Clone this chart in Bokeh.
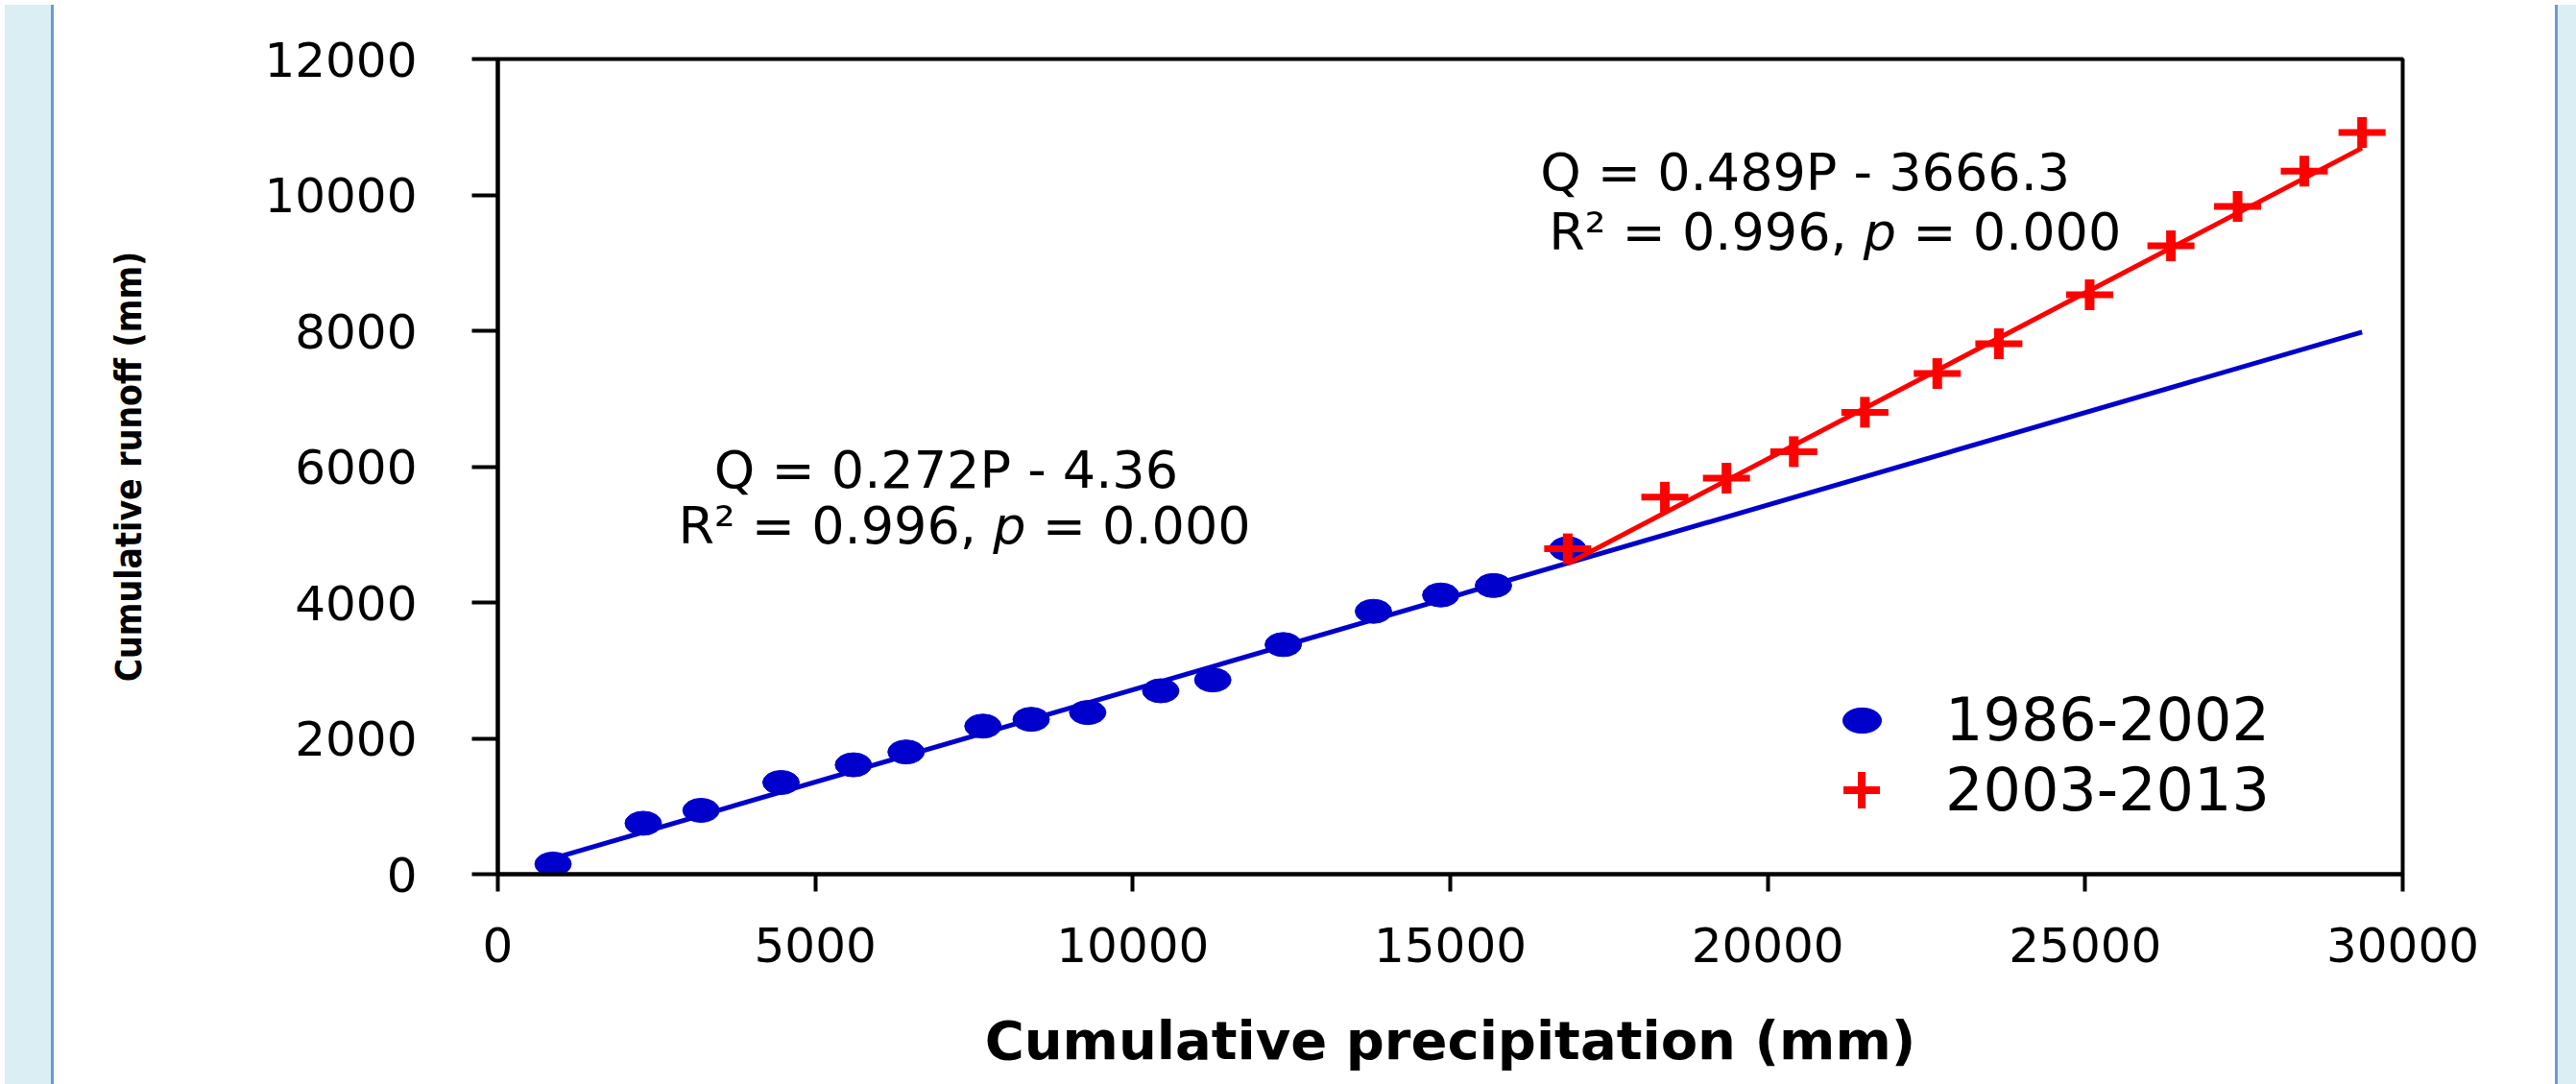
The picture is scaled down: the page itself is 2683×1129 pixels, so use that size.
import numpy as np
from bokeh.plotting import figure
from bokeh.models import Range1d, FixedTicker, Label, Legend, LegendItem, Div
from bokeh.layouts import row
from bokeh.embed import file_html
from bokeh.resources import INLINE

# ---------------- data ----------------
P_1986_2002 = [870, 2290, 3200, 4460, 5600, 6430, 7640, 8400, 9290, 10440,
               11260, 12370, 13790, 14850, 15680, 16850]
Q_1986_2002 = [150, 750, 940, 1350, 1610, 1800, 2180, 2280, 2380, 2700,
               2860, 3380, 3870, 4110, 4250, 4790]

P_2003_2013 = [16850, 18380, 19350, 20410, 21530, 22670, 23640, 25070,
               26350, 27400, 28450, 29360]
Q_2003_2013 = [4790, 5550, 5830, 6220, 6800, 7370, 7810, 8530,
               9250, 9830, 10350, 10920]

SERIES_LABELS = ["1986-2002", "2003-2013"]
FIT_SLOPE = [0.272, 0.489]
FIT_INTERCEPT = [-4.36, -3666.3]
EQ_LINE1 = ["Q = 0.272P - 4.36", "Q = 0.489P - 3666.3"]
EQ_R2 = ["R\u00b2 = 0.996,", "R\u00b2 = 0.996,"]
EQ_P = ["= 0.000", "= 0.000"]

X_TICKS = [0, 5000, 10000, 15000, 20000, 25000, 30000]
Y_TICKS = [0, 2000, 4000, 6000, 8000, 10000, 12000]
X_TITLE = "Cumulative precipitation (mm)"
Y_TITLE = "Cumulative runoff (mm)"

# ---------------- styles ----------------
BLUE = "#0000CC"
RED = "#FF0000"
FONT = "DejaVu Sans"
NARROW = "'Liberation Sans Narrow', 'DejaVu Sans Condensed', 'Liberation Sans', sans-serif"

FIG_W, FIG_H = 2595, 1125

p = figure(width=FIG_W, height=FIG_H,
           x_range=Range1d(0, 30000), y_range=Range1d(0, 12000),
           output_backend="svg", toolbar_location=None,
           min_border_left=457, min_border_right=154,
           min_border_top=61, min_border_bottom=215)
p.xgrid.visible = False
p.ygrid.visible = False
p.outline_line_color = "black"
p.outline_line_width = 4
p.background_fill_color = "white"
p.border_fill_color = "white"

for ax in (p.xaxis[0], p.yaxis[0]):
    ax.axis_line_width = 4
    ax.axis_line_color = "black"
    ax.major_tick_in = 0
    ax.major_tick_line_width = 4
    ax.major_tick_line_color = "black"
    ax.minor_tick_in = 0
    ax.minor_tick_out = 0
    ax.major_label_text_font = FONT
    ax.major_label_text_font_size = "50px"
    ax.major_label_text_color = "black"
    ax.axis_label_text_font_style = "bold"
    ax.axis_label_text_color = "black"

xa = p.xaxis[0]
xa.ticker = FixedTicker(ticks=X_TICKS)
xa.major_tick_out = 18
xa.major_label_standoff = 37
xa.axis_label = X_TITLE
xa.axis_label_text_font = FONT
xa.axis_label_text_font_size = "56px"
xa.axis_label_standoff = 46

ya = p.yaxis[0]
ya.ticker = FixedTicker(ticks=Y_TICKS)
ya.major_tick_out = 27
ya.major_label_standoff = 57
ya.axis_label = Y_TITLE
ya.axis_label_text_font = NARROW
ya.axis_label_text_font_size = "37px"
ya.axis_label_standoff = 116

# ---------------- fitted lines and points ----------------
xb = np.array([min(P_1986_2002), max(P_2003_2013)], dtype=float)
p.line(xb, FIT_SLOPE[0] * xb + FIT_INTERCEPT[0], line_color=BLUE, line_width=5)

blue_r = p.ellipse(P_1986_2002, Q_1986_2002, width=38, height=25,
                   width_units="screen", height_units="screen",
                   fill_color=BLUE, line_color=BLUE)

xr = np.array([min(P_2003_2013), max(P_2003_2013)], dtype=float)
p.line(xr, FIT_SLOPE[1] * xr + FIT_INTERCEPT[1], line_color=RED, line_width=5)

p.scatter(P_2003_2013, Q_2003_2013, marker="dash", size=49,
          line_color=RED, line_width=7)
p.scatter(P_2003_2013, Q_2003_2013, marker="dash", size=32, angle=np.pi / 2,
          line_color=RED, line_width=10)

# hidden cross renderer used only for the legend symbol
red_leg = p.scatter(P_2003_2013, Q_2003_2013, marker="cross", size=38,
                    line_color=RED, line_width=8, visible=False)

leg1 = Legend(items=[LegendItem(label=SERIES_LABELS[0], renderers=[blue_r])],
              location=(1396, 124), glyph_width=50, glyph_height=72,
              label_standoff=62, padding=0, margin=0, spacing=0,
              border_line_color=None, background_fill_alpha=0,
              label_text_font=FONT, label_text_font_size="62px",
              label_text_color="black")
leg2 = Legend(items=[LegendItem(label=SERIES_LABELS[1], renderers=[red_leg])],
              location=(1373, 40), glyph_width=95, glyph_height=95,
              label_standoff=40, padding=0, margin=0, spacing=0,
              border_line_color=None, background_fill_alpha=0,
              label_text_font=FONT, label_text_font_size="62px",
              label_text_color="black")
p.add_layout(leg1)
p.add_layout(leg2)

# ---------------- equation annotations ----------------
EQ_FS = 54
EQ_X1 = [7060, 20590]
EQ_X2 = [7350, 21060]
EQ_Y1 = [5950, 10330]
EQ_Y2 = [5130, 9460]
W2 = 11.04 * EQ_FS
for i in range(2):
    p.add_layout(Label(x=EQ_X1[i], y=EQ_Y1[i], text=EQ_LINE1[i],
                       text_font=FONT, text_font_size=f"{EQ_FS}px",
                       text_align="center", text_baseline="middle",
                       text_color="black"))
    x0 = -W2 / 2
    p.add_layout(Label(x=EQ_X2[i], y=EQ_Y2[i], x_offset=x0, text=EQ_R2[i],
                       text_font=FONT, text_font_size=f"{EQ_FS}px",
                       text_align="left", text_baseline="middle",
                       text_color="black"))
    p.add_layout(Label(x=EQ_X2[i], y=EQ_Y2[i], x_offset=x0 + 6.068 * EQ_FS,
                       text="p", text_font=FONT, text_font_size=f"{EQ_FS}px",
                       text_font_style="italic",
                       text_align="left", text_baseline="middle",
                       text_color="black"))
    p.add_layout(Label(x=EQ_X2[i], y=EQ_Y2[i], x_offset=x0 + 7.021 * EQ_FS,
                       text=EQ_P[i], text_font=FONT,
                       text_font_size=f"{EQ_FS}px",
                       text_align="left", text_baseline="middle",
                       text_color="black"))

# ---------------- side bands ----------------
left_band = Div(width=51, height=FIG_H, text="",
                styles={"background-color": "#DAEEF3",
                        "border-right": "3px solid #6A9AD4",
                        "box-sizing": "border-box"})
right_band = Div(width=33, height=FIG_H, text="",
                 styles={"background-color": "#DAEEF3",
                         "border-left": "3px solid #6A9AD4",
                         "box-sizing": "border-box"})

layout = row(left_band, p, right_band)
open("out.html", "w").write(file_html(layout, INLINE))
